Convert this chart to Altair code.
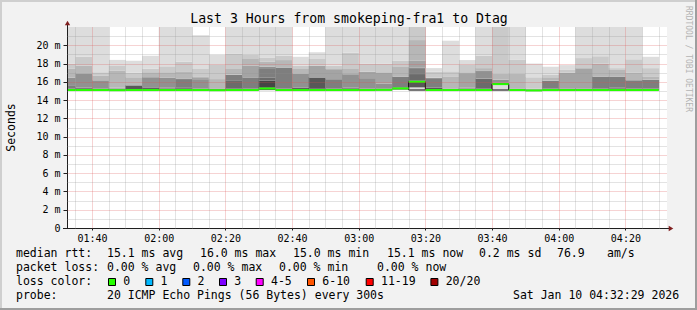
import altair as alt
import pandas as pd

# ---------------- data ----------------
times = ["01:30", "01:35", "01:40", "01:45", "01:50", "01:55", "02:00", "02:05", "02:10", "02:15",
         "02:20", "02:25", "02:30", "02:35", "02:40", "02:45", "02:50", "02:55", "03:00", "03:05",
         "03:10", "03:15", "03:20", "03:25", "03:30", "03:35", "03:40", "03:45", "03:50", "03:55",
         "04:00", "04:05", "04:10", "04:15", "04:20", "04:25"]

# sorted ping RTTs (ms) per 5-minute step, highest first
p20 = [22.5, 22.5, 22.5, 18.4, 18.3, 18.85, 22.5, 22.5, 21.1, 18.95, 22.5, 22.5, 22.5, 22.5, 18.74, 19.25, 22.5, 22.5,
       22.5, 22.5, 22.5, 23.0, 17.5, 20.5, 18.38, 22.5, 23.0, 22.5, 18.0, 17.65, 17.83, 22.5, 22.5, 22.5, 22.5, 18.74]
p19 = [18.0, 18.74, 17.05, 17.8, 17.0, 17.42, 17.7, 18.2, 17.4, 17.9, 19.1, 18.96, 18.67, 18.85, 17.76, 18.49, 17.76, 19.2,
       18.0, 18.0, 18.3, 22.5, 17.1, 17.15, 17.9, 18.87, 22.5, 18.4, 16.5, 16.8, 17.3, 18.6, 18.8, 17.5, 18.47, 17.5]
p18 = [17.47, 17.76, 16.7, 17.2, 16.5, 17.05, 17.05, 17.15, 16.6, 16.3, 17.4, 18.5, 18.23, 18.38, 17.4, 17.76, 17.4, 17.4,
       17.1, 17.05, 17.7, 20.57, 16.45, 16.6, 17.05, 17.5, 16.9, 16.9, 15.25, 16.5, 17.03, 17.5, 18.0, 17.3, 16.98, 16.6]
p17 = [16.45, 17.05, 16.2, 15.35, 15.66, 16.52, 16.5, 16.4, 16.5, 15.3, 16.8, 17.76, 17.65, 17.58, 16.92, 17.74, 17.38, 16.85,
       17.08, 17.03, 16.6, 18.3, 16.43, 15.3, 16.95, 17.2, 16.25, 15.3, 15.22, 16.15, 17.0, 17.48, 16.6, 16.6, 16.2, 16.25]
p16 = [16.45, 16.9, 16.15, 15.3, 15.64, 16.5, 16.45, 16.35, 16.2, 15.27, 16.78, 16.5, 17.62, 17.57, 16.9, 16.5, 16.3, 16.83,
       16.4, 15.8, 16.58, 17.58, 16.41, 15.27, 15.35, 17.18, 16.23, 15.27, 15.2, 16.13, 15.3, 15.3, 16.58, 16.58, 16.18, 16.23]
p15 = [15.55, 15.4, 15.3, 15.27, 15.62, 15.4, 15.35, 16.3, 15.25, 15.24, 16.76, 16.48, 17.4, 17.56, 15.4, 16.48, 16.28, 15.39,
       15.25, 15.25, 16.56, 17.5, 16.4, 15.24, 15.3, 16.35, 15.9, 15.24, 15.18, 16.11, 15.27, 15.27, 16.56, 16.56, 16.16, 16.21]
p14 = [15.3, 15.35, 15.27, 15.24, 15.6, 15.39, 15.3, 15.4, 15.23, 15.21, 16.1, 15.25, 16.49, 15.25, 15.38, 16.47, 15.25, 15.37,
       15.23, 15.23, 15.4, 16.85, 15.39, 15.21, 15.27, 16.33, 15.88, 15.21, 15.16, 15.25, 15.24, 15.24, 15.25, 15.39, 15.25, 15.25]
p13 = [15.25, 15.3, 15.24, 15.2, 15.58, 15.38, 15.25, 15.3, 15.2, 15.19, 15.25, 15.22, 16.12, 15.22, 15.36, 16.46, 15.22, 15.25,
       15.21, 15.2, 15.38, 16.12, 15.37, 15.19, 15.24, 15.25, 15.86, 15.19, 15.14, 15.22, 15.21, 15.21, 15.22, 15.25, 15.22, 15.22]
p12 = [15.2, 15.22, 15.2, 15.17, 15.2, 15.22, 15.2, 15.22, 15.18, 15.17, 15.2, 15.19, 16.1, 15.19, 15.22, 15.25, 15.19, 15.2,
       15.18, 15.18, 15.36, 16.1, 15.2, 15.17, 15.2, 15.2, 15.84, 15.17, 15.12, 15.18, 15.18, 15.18, 15.18, 15.2, 15.18, 15.18]
p11 = [15.15, 15.15, 15.15, 15.14, 15.15, 15.15, 15.15, 15.15, 15.15, 15.14, 15.15, 15.15, 15.39, 15.15, 15.15, 15.15, 15.15, 15.15,
       15.15, 15.15, 15.34, 16.08, 15.15, 15.14, 15.15, 15.15, 15.82, 15.14, 15.1, 15.15, 15.15, 15.15, 15.15, 15.15, 15.15, 15.15]
median = [15.1, 15.1, 15.1, 15.08, 15.1, 15.1, 15.1, 15.1, 15.1, 15.08, 15.1, 15.1, 15.27, 15.1, 15.1, 15.1, 15.1, 15.1,
          15.1, 15.12, 15.28, 16.0, 15.1, 15.1, 15.1, 15.1, 15.75, 15.1, 15.05, 15.1, 15.1, 15.1, 15.1, 15.1, 15.1, 15.1]
p2 = [15.05, 15.05, 15.05, 15.04, 15.05, 15.05, 15.05, 15.05, 15.05, 15.04, 15.05, 15.05, 15.1, 15.05, 15.05, 15.05, 15.05, 15.05,
      15.05, 15.06, 15.15, 15.39, 15.05, 15.05, 15.05, 15.05, 15.68, 15.05, 15.0, 15.05, 15.05, 15.05, 15.05, 15.05, 15.05, 15.05]
p1 = [15.0, 15.0, 15.0, 15.0, 15.0, 15.0, 15.0, 15.0, 15.0, 15.0, 15.0, 15.0, 15.05, 15.0, 15.0, 15.0, 15.0, 15.0,
      15.0, 15.0, 15.1, 15.1, 15.0, 15.0, 15.0, 15.0, 15.1, 15.0, 14.98, 15.0, 15.0, 15.0, 15.0, 15.0, 15.0, 15.0]

loss_labels = ["0", "1", "2", "3", "4-5", "6-10", "11-19", "20/20"]
loss_colors = ["#26ff00", "#00b8ff", "#0059ff", "#7e00ff", "#ff00ff", "#ff5500", "#ff0000", "#a10000"]

title_text = "Last 3 Hours from smokeping-fra1 to Dtag"
rtt_items = ["median rtt:", "15.1 ms avg", "16.0 ms max", "15.0 ms min", "15.1 ms now", "0.2 ms sd", "76.9", "am/s"]
loss_items = ["packet loss:", "0.00 % avg", "0.00 % max", "0.00 % min", "0.00 % now"]
probe_items = ["probe:", "20 ICMP Echo Pings (56 Bytes) every 300s", "Sat Jan 10 04:32:29 2026"]

# ---------------- styling / layout ----------------
MONO = "DejaVu Sans Mono"
STEP = 5
START = 1 * 60 + 32 + 29 / 60.0
END = START + 180
W, H = 600, 201
PADL, PADT = 67, 27
shades = ["#323232", "#454545", "#585858", "#6b6b6b", "#7e7e7e",
          "#919191", "#a4a4a4", "#b7b7b7", "#cacaca", "#dddddd"]
MAJOR = "rgba(222,79,79,0.5)"
MINOR = "rgba(143,143,143,0.5)"


def to_min(t):
    h, m = t.split(":")
    return int(h) * 60 + int(m)


band_rows, col_rows = [], []
for i, t in enumerate(times):
    s = to_min(t)
    e = s + STEP
    upper = [median[i], p11[i], p12[i], p13[i], p14[i], p15[i], p16[i], p17[i], p18[i], p19[i], p20[i]]
    band_rows.append(dict(start=s, end=e, lo=p1[i], hi=p2[i], shade="#dddddd"))
    band_rows.append(dict(start=s, end=e, lo=p2[i], hi=median[i], shade="#585858"))
    for k in range(10):
        band_rows.append(dict(start=s, end=e, lo=upper[k], hi=upper[k + 1], shade=shades[k]))
    col_rows.append(dict(start=s, end=e, median=median[i], low=p1[i]))

bands = pd.DataFrame(band_rows)
cols = pd.DataFrame(col_rows)

x_axis = alt.Axis(
    values=list(range(95, 275, 5)),
    labelExpr="datum.value % 20 == 0 ? (format(floor(datum.value / 60), '02d') + ':' + format(datum.value % 60, '02d')) : ''",
    grid=True,
    gridColor={"condition": {"test": "datum.value % 20 == 0", "value": MAJOR}, "value": MINOR},
    gridDash=[1, 1],
    domain=False,
    tickSize=2,
    tickColor={"condition": {"test": "datum.value % 20 == 0", "value": "#1f1f1f"}, "value": "rgba(0,0,0,0)"},
    labelFont=MONO, labelFontSize=10, labelColor="#000000", labelPadding=3,
    labelFlush=False, labelOverlap=False, labelBaseline="top",
    title=None, zindex=1,
)
y_axis = alt.Axis(
    values=list(range(0, 22)),
    labelExpr="datum.value % 2 == 0 ? (datum.value == 0 ? '0\u00a0\u00a0' : datum.value + ' m') : ''",
    grid=True,
    gridColor={"condition": {"test": "datum.value % 2 == 0", "value": MAJOR}, "value": MINOR},
    gridOpacity={"condition": {"test": "datum.value == 0", "value": 0}, "value": 1},
    gridDash=[1, 1],
    domain=False,
    tickSize=4,
    tickColor={"condition": {"test": "datum.value % 2 == 0", "value": "#1f1f1f"}, "value": "rgba(0,0,0,0)"},
    labelFont=MONO, labelFontSize=10, labelColor="#000000", labelPadding=3,
    labelOverlap=False, labelFlush=False,
    title="Seconds", titleFont=MONO, titleFontSize=11.5, titleFontWeight="normal", titleColor="#000000",
    titleAngle=270, titleX=-56, titleY=100, titleAlign="center", titleBaseline="middle",
    zindex=1,
)
x_scale = alt.Scale(domain=[START, END], nice=False, zero=False)
y_scale = alt.Scale(domain=[0, 22], nice=False, zero=False)

smoke = alt.Chart(bands).mark_rect(clip=True, x2Offset=0.4).encode(
    x=alt.X("start:Q", scale=x_scale, axis=x_axis),
    x2="end:Q",
    y=alt.Y("lo:Q", scale=y_scale, axis=y_axis),
    y2="hi:Q",
    color=alt.Color("shade:N", scale=None),
)

outline = alt.Chart(cols).transform_filter("datum.median - datum.low > 0.5").mark_rect(
    clip=True, filled=False, stroke="#000000", strokeWidth=1
).encode(
    x=alt.X("start:Q", scale=x_scale, axis=x_axis),
    x2="end:Q",
    y=alt.Y("low:Q", scale=y_scale, axis=y_axis),
    y2="median:Q",
)

med_line = alt.Chart(cols).mark_rule(clip=True, strokeWidth=2, color=loss_colors[0]).encode(
    x=alt.X("start:Q", scale=x_scale, axis=x_axis),
    x2="end:Q",
    y=alt.Y("median:Q", scale=y_scale, axis=y_axis),
)

ONE = alt.Data(values=[{"a": 1}])


def rule(x, y, x2=None, y2=None, color="#000000", width=1):
    enc = dict(x=alt.value(x), y=alt.value(y))
    if x2 is not None:
        enc["x2"] = alt.value(x2)
    if y2 is not None:
        enc["y2"] = alt.value(y2)
    return alt.Chart(ONE).mark_rule(color=color, strokeWidth=width).encode(**enc)


def text(s, x, y, size=11.5, align="left", color="#000000", angle=None):
    kw = dict(text=s, font=MONO, fontSize=size, align=align, baseline="middle", color=color)
    if angle is not None:
        kw["angle"] = angle
    return alt.Chart(ONE).mark_text(**kw).encode(x=alt.value(x), y=alt.value(y))


deco = []
# frame shading
deco.append(rule(-PADL, -PADT + 1, x2=697 - PADL, color="#cfcfcf", width=2))
deco.append(rule(-PADL + 1, -PADT, y2=310 - PADT, color="#cfcfcf", width=2))
deco.append(rule(-PADL, 310 - PADT - 1, x2=697 - PADL, color="#9e9e9e", width=2))
deco.append(rule(697 - PADL - 1, -PADT, y2=310 - PADT, color="#9e9e9e", width=2))
# axis lines and arrows
deco.append(rule(-4, H + 0.5, x2=W + 2, color="#1f1f1f"))
deco.append(rule(0.5, -4, y2=H, color="#1f1f1f"))
deco.append(alt.Chart(ONE).mark_point(shape="triangle-up", filled=True, size=28, color="#801f1f", opacity=1)
            .encode(x=alt.value(0.5), y=alt.value(-4)))
deco.append(alt.Chart(ONE).mark_point(shape="triangle-right", filled=True, size=28, color="#801f1f", opacity=1)
            .encode(x=alt.value(W + 4), y=alt.value(H + 0.5)))

# title and watermark
deco.append(text(title_text, 349 - PADL, 19 - PADT, size=13.2, align="center"))
deco.append(text("RRDTOOL / TOBI OETIKER", 688 - PADL, 59 - PADT, size=8, align="center", color="#b4b4b4", angle=90))

# legend lines
rtt_x = [16, 107, 200, 293, 387, 479, 557, 607]
for s, xx in zip(rtt_items, rtt_x):
    deco.append(text(s, xx - PADL, 254 - PADT))
loss_x = [16, 107, 193, 279, 377]
for s, xx in zip(loss_items, loss_x):
    deco.append(text(s, xx - PADL, 268 - PADT))
deco.append(text("loss color:", 16 - PADL, 282 - PADT))
box_x = [112, 149.3, 186.3, 223, 259.7, 311, 369.7, 434.4]
for lab, colr, bx in zip(loss_labels, loss_colors, box_x):
    deco.append(alt.Chart(ONE).mark_square(size=49, filled=True, color=colr, stroke="#000000",
                                           strokeWidth=1, opacity=1)
                .encode(x=alt.value(bx - PADL), y=alt.value(282 - PADT)))
    deco.append(text(lab, bx + 11.3 - PADL, 282 - PADT))
probe_x = [16, 107, 513]
for s, xx in zip(probe_items, probe_x):
    deco.append(text(s, xx - PADL, 296 - PADT))

chart = alt.layer(smoke, outline, med_line, *deco).properties(
    width=W, height=H,
    autosize=alt.AutoSizeParams(type="none"),
    padding={"left": PADL, "top": PADT, "right": 697 - PADL - W, "bottom": 310 - PADT - H},
    background="#f2f2f2",
).configure_view(fill="#ffffff", stroke=None)

chart.save("out.html", embed_options={"renderer": "svg", "actions": False})
